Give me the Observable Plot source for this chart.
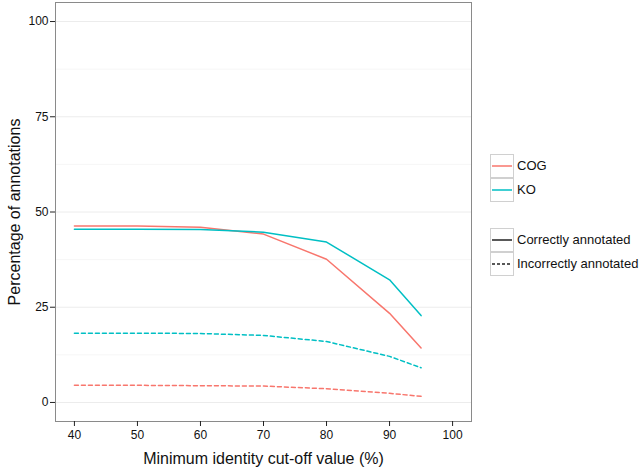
<!DOCTYPE html>
<html>
<head>
<meta charset="utf-8">
<script src="https://cdn.jsdelivr.net/npm/d3@7"></script>
<script src="https://cdn.jsdelivr.net/npm/@observablehq/plot@0.6"></script>
<style>
  body { margin: 0; background: #fff; font-family: "Liberation Sans", Arial, sans-serif; }
  #wrap { position: relative; width: 640px; height: 468px; }
  .legend { position: absolute; font-size: 13px; color: #111; }
  .row { display: flex; align-items: center; height: 24px; }
  .key { width: 22px; height: 22px; border: 1px solid #d0d0d0; box-sizing: content-box; display: flex; align-items: center; justify-content: center; margin-bottom: -1px; }
  .lab { margin-left: 3px; white-space: nowrap; }
</style>
</head>
<body>
<div id="wrap"></div>
<script>
const cutoffs = [40, 50, 60, 70, 80, 90, 95];
const cogCorrect   = [46.3, 46.3, 46.0, 44.2, 37.6, 23.4, 14.3];
const koCorrect    = [45.5, 45.5, 45.4, 44.7, 42.1, 32.2, 22.8];
const koIncorrect  = [18.2, 18.2, 18.1, 17.6, 16.0, 12.1, 9.1];
const cogIncorrect = [4.5, 4.5, 4.4, 4.3, 3.6, 2.4, 1.6];
const databases = ["COG", "KO"];
const statuses = ["Correctly annotated", "Incorrectly annotated"];
const colors = ["#F8766D", "#00BFC4"];
const yTicks = [0, 25, 50, 75, 100];
const yMinor = [12.5, 37.5, 62.5, 87.5];
const xTicks = [40, 50, 60, 70, 80, 90, 100];

const series = [
  {db: "COG", status: statuses[0], values: cogCorrect},
  {db: "KO", status: statuses[0], values: koCorrect},
  {db: "COG", status: statuses[1], values: cogIncorrect},
  {db: "KO", status: statuses[1], values: koIncorrect}
];
const rows = series.flatMap(s => cutoffs.map((c, i) => ({x: c, y: s.values[i], db: s.db, status: s.status})));
const font = "Liberation Sans, Arial, sans-serif";

const chart = Plot.plot({
  width: 640,
  height: 468,
  marginLeft: 55,
  marginRight: 169,
  marginTop: 2,
  marginBottom: 47,
  style: {fontFamily: font, fontSize: "12px", color: "#111", background: "#fff"},
  x: {domain: [37, 103]},
  y: {domain: [-5, 105]},
  color: {domain: databases, range: colors},
  marks: [
    Plot.ruleY(yMinor, {stroke: "#f6f6f6", strokeWidth: 1}),
    Plot.ruleY(yTicks, {stroke: "#ececec", strokeWidth: 1}),
    Plot.line(rows.filter(d => d.status === statuses[0]), {x: "x", y: "y", z: "db", stroke: "db", strokeWidth: 1.5}),
    Plot.line(rows.filter(d => d.status === statuses[1]), {x: "x", y: "y", z: "db", stroke: "db", strokeWidth: 1.5, strokeDasharray: "4,3"}),
    Plot.frame({stroke: "#8a8a8a", strokeWidth: 1}),
    Plot.axisY(yTicks, {tickSize: 5, tickPadding: 2, stroke: "#222", fontSize: 12, label: "Percentage of annotations", labelAnchor: "center", labelArrow: "none", labelOffset: 47}),
    Plot.axisX(xTicks, {tickSize: 5, tickPadding: 4, stroke: "#222", fontSize: 12, label: "Minimum identity cut-off value (%)", labelAnchor: "center", labelArrow: "none", labelOffset: 42})
  ]
});
d3.select(chart).selectAll("[aria-label='y-axis label'] text, [aria-label='x-axis label'] text").style("font-size", "16px");
document.getElementById("wrap").appendChild(chart);

function legend(top, items) {
  const div = document.createElement("div");
  div.className = "legend";
  div.style.left = "490px";
  div.style.top = top + "px";
  for (const it of items) {
    const r = document.createElement("div");
    r.className = "row";
    r.innerHTML = `<div class="key"><svg width="20" height="4"><line x1="0" x2="20" y1="2" y2="2" stroke="${it.color}" stroke-width="1.5" ${it.dash ? `stroke-dasharray="${it.dash}"` : ""}></line></svg></div><div class="lab">${it.label}</div>`;
    div.appendChild(r);
  }
  document.getElementById("wrap").appendChild(div);
}
legend(153, databases.map((d, i) => ({label: d, color: colors[i]})));
legend(227, statuses.map((s, i) => ({label: s, color: "#222", dash: i ? "3,2" : null})));
</script>
</body>
</html>
